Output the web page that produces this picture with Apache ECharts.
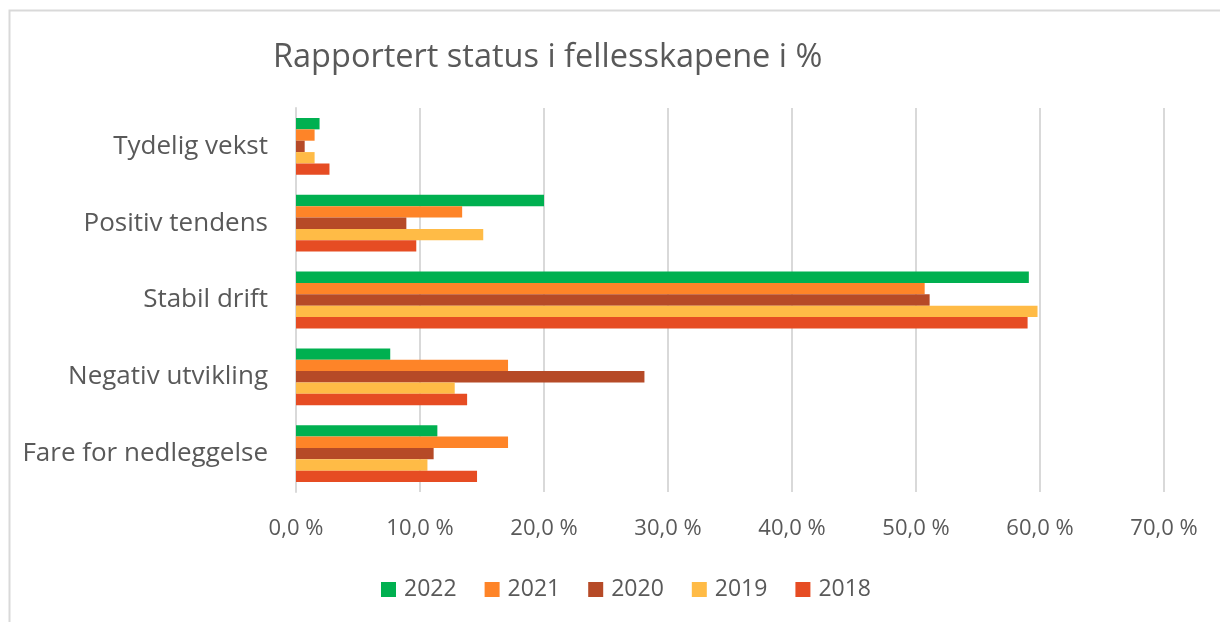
<!DOCTYPE html>
<html>
<head>
<meta charset="utf-8">
<script src="https://cdn.jsdelivr.net/npm/echarts@6/dist/echarts.min.js"></script>
<style>
html,body{margin:0;padding:0;background:#fff;}
#chart{width:1220px;height:622px;}
</style>
</head>
<body>
<div id="chart"></div>
<script>
const titleText = 'Rapportert status i fellesskapene i %';
const categories = ['Tydelig vekst', 'Positiv tendens', 'Stabil drift', 'Negativ utvikling', 'Fare for nedleggelse'];
const seriesNames = ['2022', '2021', '2020', '2019', '2018'];
const v2022 = [1.9, 20.0, 59.1, 7.6, 11.4];
const v2021 = [1.5, 13.4, 50.7, 17.1, 17.1];
const v2020 = [0.7, 8.9, 51.1, 28.1, 11.1];
const v2019 = [1.5, 15.1, 59.8, 12.8, 10.6];
const v2018 = [2.7, 9.7, 59.0, 13.8, 14.6];
const seriesValues = [v2022, v2021, v2020, v2019, v2018];
const colors = ['#00b050', '#fe8428', '#b64a27', '#ffbb46', '#e64c23'];

const FONT = '"Open Sans"';
const chart = echarts.init(document.getElementById('chart'), null, {renderer: 'canvas'});
chart.setOption({
  animation: false,
  backgroundColor: '#ffffff',
  title: {
    text: titleText,
    left: 268,
    top: 36,
    textStyle: {fontFamily: FONT, fontSize: 32.5, fontWeight: 'normal', color: '#595959'}
  },
  graphic: [{
    type: 'rect',
    shape: {x: 9.5, y: 10.5, width: 1400, height: 800},
    style: {fill: 'none', stroke: '#d9d9d9', lineWidth: 2},
    silent: true, z: -1
  }],
  legend: {
    data: seriesNames,
    bottom: 21,
    left: 381,
    itemWidth: 15,
    itemHeight: 15,
    itemGap: 28,
    padding: 0,
    icon: 'rect',
    textStyle: {fontFamily: FONT, fontSize: 23, color: '#595959', padding: [0, 0, 0, 3]}
  },
  grid: {left: 296, right: 56, top: 108, bottom: 130, containLabel: false},
  xAxis: {
    type: 'value',
    min: 0, max: 70, interval: 10,
    axisLine: {show: false},
    axisTick: {show: false},
    splitLine: {show: true, lineStyle: {color: '#d9d9d9', width: 2}},
    axisLabel: {
      fontFamily: FONT, fontSize: 22, color: '#595959', margin: 26,
      formatter: v => v.toFixed(1).replace('.', ',') + ' %'
    }
  },
  yAxis: {
    type: 'category',
    data: categories,
    inverse: true,
    axisLine: {show: true, lineStyle: {color: '#d9d9d9', width: 2}},
    axisTick: {show: false},
    axisLabel: {fontFamily: FONT, fontSize: 26, color: '#595959', margin: 28}
  },
  series: seriesNames.map((n, i) => ({
    name: n,
    type: 'bar',
    data: seriesValues[i],
    barGap: '0%',
    barCategoryGap: '26%',
    itemStyle: {color: colors[i]}
  }))
});
</script>
</body>
</html>
